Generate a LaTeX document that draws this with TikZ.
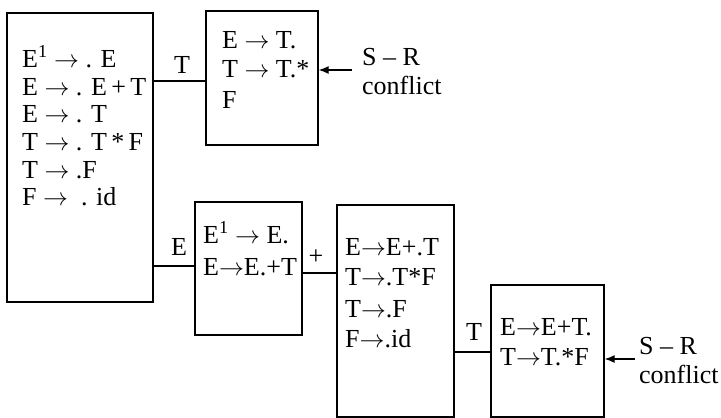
\documentclass[tikz,border=0pt]{standalone}
\usepackage{fontspec}
\setmainfont{Liberation Serif}
\usetikzlibrary{arrows.meta}
\begin{document}
\begin{tikzpicture}[x=1pt,y=-1pt,font=\fontsize{26}{29}\selectfont,
  box/.style={draw,line width=1.3pt,inner sep=0pt},
  item/.style={anchor=base west,inner sep=0pt},
  conn/.style={line width=1.3pt},
  lbl/.style={anchor=base,inner sep=0pt}]
\useasboundingbox (0,0) rectangle (721,418);
% item sets
\node[box,minimum width=146pt,minimum height=289pt] (s0) at (80,157.5) {};
\node[box,minimum width=112pt,minimum height=134pt] (s1) at (262,78) {};
\node[box,minimum width=107pt,minimum height=133pt] (s2) at (248.5,268.5) {};
\node[box,minimum width=117pt,minimum height=212pt] (s3) at (395.5,311) {};
\node[box,minimum width=113pt,minimum height=132pt] (s4) at (547.5,351) {};
% state 0
\node[item] (s0a) at (22,67) {E\textsuperscript{1} $\rightarrow$ . E};
\node[item] (s0b) at (22,95) {E $\rightarrow$ . E\,+\,T};
\node[item] (s0c) at (22,122) {E $\rightarrow$ . T};
\node[item] (s0d) at (22,150) {T $\rightarrow$ . T\,*\,F};
\node[item] (s0e) at (22,178) {T $\rightarrow$ .F};
\node[item] (s0f) at (22,205) {F $\rightarrow$ \ . id};
% state 1
\node[item] (s1a) at (222,48) {E $\rightarrow$ T.};
\node[item] (s1b) at (222,77) {T $\rightarrow$ T.*};
\node[item] (s1c) at (222,108) {F};
% state 2
\node[item] (s2a) at (203,243) {E\textsuperscript{1} $\rightarrow$ E.};
\node[item] (s2b) at (203,275) {E$\rightarrow$E.+T};
% state 3
\node[item] (s3a) at (345,255) {E$\rightarrow$E+.T};
\node[item] (s3b) at (345,285) {T$\rightarrow$.T*F};
\node[item] (s3c) at (345,317) {T$\rightarrow$.F};
\node[item] (s3d) at (345,347) {F$\rightarrow$.id};
% state 4
\node[item] (s4a) at (500,335) {E$\rightarrow$E+T.};
\node[item] (s4b) at (500,365) {T$\rightarrow$T.*F};
% goto edges
\draw[conn] (s0.east |- 0,81) -- (s1.west |- 0,81);
\node[lbl] (g01) at (182,73) {T};
\draw[conn] (s0.east |- 0,266) -- (s2.west |- 0,266);
\node[lbl] (g02) at (179,255) {E};
\draw[conn] (s2.east |- 0,273) -- (s3.west |- 0,273);
\node[lbl] (g23) at (316,264) {+};
\draw[conn] (s3.east |- 0,352) -- (s4.west |- 0,352);
\node[lbl] (g34) at (474,340) {T};
% conflicts
\node[anchor=west,align=left,inner sep=0pt] (sr1) at (362,72) {S – R\\conflict};
\coordinate (sr1t) at (352,70);
\draw[conn,-{Latex[length=10pt,width=8pt]}] (sr1t) -- (s1.east |- sr1t);
\node[anchor=west,align=left,inner sep=0pt] (sr4) at (639,361) {S – R\\conflict};
\coordinate (sr4t) at (635,359);
\draw[conn,-{Latex[length=10pt,width=8pt]}] (sr4t) -- (s4.east |- sr4t);
\end{tikzpicture}
\end{document}
